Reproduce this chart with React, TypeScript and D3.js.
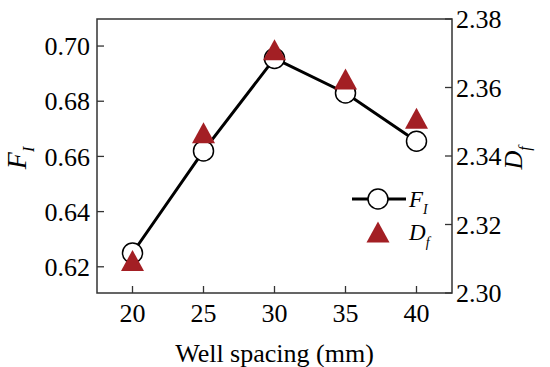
import React from 'react';
import * as d3 from 'd3';

const spacing = [20, 25, 30, 35, 40];
const fiValues = [0.625, 0.662, 0.6955, 0.683, 0.6655];
const dfValues = [2.3095, 2.3468, 2.371, 2.3625, 2.351];
const leftTicks = [0.62, 0.64, 0.66, 0.68, 0.70];
const rightTicks = [2.30, 2.32, 2.34, 2.36, 2.38];

const W = 550;
const H = 367;
const left = 97;
const right = 452;
const top = 19;
const bottom = 293;
const font = "'Times New Roman', 'Liberation Serif', 'DejaVu Serif', serif";
const red = '#A31F24';
const axisColor = '#333';

function triangle(cx: number, cy: number, w: number, h: number) {
    const p = d3.path();
    p.moveTo(cx, cy - h / 2);
    p.lineTo(cx + w / 2, cy + h / 2);
    p.lineTo(cx - w / 2, cy + h / 2);
    p.closePath();
    return p.toString();
}

export default function App() {
    const x = d3.scaleLinear().domain([17.5, 42.5]).range([left, right]);
    const yL = d3.scaleLinear().domain([0.6105, 0.7098]).range([bottom, top]);
    const yR = d3.scaleLinear().domain([2.30, 2.38]).range([bottom, top]);

    const line = d3.line<number>()
        .x((d, i) => x(spacing[i]))
        .y(d => yL(d));

    const tickLen = 7;

    return (
        <svg width={W} height={H} style={{ position: 'absolute', left: 0, top: 0, background: '#fff', fontFamily: font }}>
            {/* frame */}
            <rect x={left} y={top} width={right - left} height={bottom - top}
                fill="none" stroke={axisColor} strokeWidth={1.5} />

            {/* bottom axis */}
            {spacing.map(s => (
                <g key={'x' + s}>
                    <line x1={x(s)} x2={x(s)} y1={bottom} y2={bottom - tickLen} stroke={axisColor} strokeWidth={1.3} />
                    <text x={x(s)} y={bottom + 20} dy="0.35em" textAnchor="middle" fontSize={26}>{s}</text>
                </g>
            ))}
            <text x={(left + right) / 2} y={362} textAnchor="middle" fontSize={26}>Well spacing (mm)</text>

            {/* left axis */}
            {leftTicks.map(t => (
                <g key={'l' + t}>
                    <line x1={left} x2={left + tickLen} y1={yL(t)} y2={yL(t)} stroke={axisColor} strokeWidth={1.3} />
                    <text x={left - 7} y={yL(t)} dy="0.35em" textAnchor="end" fontSize={26}>{t.toFixed(2)}</text>
                </g>
            ))}
            <text transform="translate(26,158) rotate(-90)" textAnchor="middle" fontSize={28} fontStyle="italic">
                F<tspan fontSize={16} dy={8}>I</tspan>
            </text>

            {/* right axis */}
            {rightTicks.map(t => (
                <g key={'r' + t}>
                    <line x1={right} x2={right - tickLen} y1={yR(t)} y2={yR(t)} stroke={axisColor} strokeWidth={1.3} />
                    <text x={right + 4} y={yR(t)} dy="0.35em" textAnchor="start" fontSize={26}>{t.toFixed(2)}</text>
                </g>
            ))}
            <text transform="translate(522,158) rotate(-90)" textAnchor="middle" fontSize={26} fontStyle="italic">
                D<tspan fontSize={16} dy={8}>f</tspan>
            </text>

            {/* F_I series */}
            <path d={line(fiValues) || ''} fill="none" stroke="#000" strokeWidth={3} />
            {fiValues.map((v, i) => (
                <circle key={'c' + i} cx={x(spacing[i])} cy={yL(v)} r={10}
                    fill="#fff" stroke="#000" strokeWidth={1.5} />
            ))}

            {/* D_f series */}
            {dfValues.map((v, i) => (
                <path key={'t' + i} d={triangle(x(spacing[i]), yR(v), 23, 21)} fill={red} />
            ))}

            {/* legend */}
            <line x1={352} x2={406} y1={199} y2={199} stroke="#000" strokeWidth={3} />
            <circle cx={378} cy={199} r={10} fill="#fff" stroke="#000" strokeWidth={1.5} />
            <text x={409} y={199} dy="0.35em" fontSize={23} fontStyle="italic">
                F<tspan fontSize={14} dy={7}>I</tspan>
            </text>
            <path d={triangle(378, 232, 23, 21)} fill={red} />
            <text x={409} y={232} dy="0.35em" fontSize={23} fontStyle="italic">
                D<tspan fontSize={14} dy={7}>f</tspan>
            </text>
        </svg>
    );
}
